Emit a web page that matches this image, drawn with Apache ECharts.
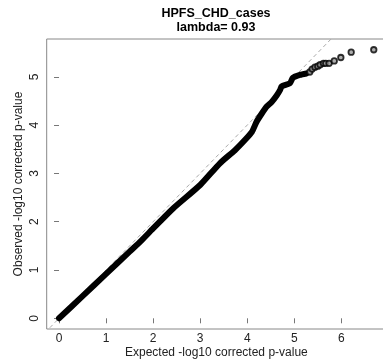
<!DOCTYPE html>
<html><head><meta charset="utf-8">
<script src="https://cdn.jsdelivr.net/npm/echarts@6/dist/echarts.min.js"></script>
<style>html,body{margin:0;padding:0;background:#fff}#c{width:383px;height:362px}</style>
</head><body><div id="c"></div>
<script>
const titleLines = ['HPFS_CHD_cases', 'lambda= 0.93'];
const xAxisName = 'Expected -log10 corrected p-value';
const yAxisName = 'Observed -log10 corrected p-value';
const xTicks = [0, 1, 2, 3, 4, 5, 6];
const yTicks = [0, 1, 2, 3, 4, 5];
const expectedDense = [0, 0.5, 1.0, 1.5, 1.76, 2.0, 2.43, 3.0, 3.42, 3.74, 3.95, 4.10, 4.20, 4.31, 4.41, 4.52, 4.63, 4.70, 4.73, 4.91, 4.97, 5.12, 5.26];
const observedDense = [0, 0.46, 0.92, 1.38, 1.62, 1.86, 2.28, 2.76, 3.21, 3.48, 3.69, 3.86, 4.07, 4.24, 4.38, 4.48, 4.62, 4.73, 4.80, 4.87, 4.98, 5.04, 5.07];
const expectedTail = [5.33, 5.38, 5.44, 5.50, 5.55, 5.62, 5.67, 5.74, 5.85, 5.99, 6.21, 6.69];
const observedTail = [5.10, 5.16, 5.20, 5.22, 5.25, 5.28, 5.28, 5.28, 5.33, 5.40, 5.51, 5.56];
const refLine = [-0.3, 6.3];

const font = '"Liberation Sans", Arial, Helvetica, sans-serif';
const chart = echarts.init(document.getElementById('c'), null, {renderer: 'canvas'});
const zip = (a, b) => a.map((v, i) => [v, b[i]]);
chart.setOption({
  animation: false,
  backgroundColor: '#fff',
  graphic: [
    {type: 'text', x: 216, y: 14, style: {text: titleLines[0], align: 'center', verticalAlign: 'middle', fontSize: 12.5, fontWeight: 'bold', fontFamily: font, fill: '#000'}},
    {type: 'text', x: 216, y: 28, style: {text: titleLines[1], align: 'center', verticalAlign: 'middle', fontSize: 12.5, fontWeight: 'bold', fontFamily: font, fill: '#000'}}
  ],
  grid: {left: 46.7, top: 39, width: 339.3, height: 290, outerBoundsMode: 'none', containLabel: false,
         show: true, borderColor: '#888', borderWidth: 1, backgroundColor: 'transparent'},
  xAxis: {
    type: 'value', min: -0.262, max: 6.95,
    name: xAxisName, nameLocation: 'middle', nameGap: 18, nameMoveOverlap: false,
    nameTextStyle: {fontSize: 12, fontFamily: font, color: '#222'},
    axisLine: {show: false}, splitLine: {show: false},
    axisTick: {show: true, length: 5, customValues: xTicks, lineStyle: {color: '#777'}},
    axisLabel: {customValues: xTicks, margin: 4, fontSize: 12, fontFamily: font, color: '#222'}
  },
  yAxis: {
    type: 'value', min: -0.2215, max: 5.783,
    name: yAxisName, nameLocation: 'middle', nameGap: 22, nameRotate: 90, nameMoveOverlap: false,
    nameTextStyle: {fontSize: 12, fontFamily: font, color: '#222'},
    axisLine: {show: false}, splitLine: {show: false},
    axisTick: {show: true, length: 5, customValues: yTicks, lineStyle: {color: '#777'}},
    axisLabel: {customValues: yTicks, margin: 6, rotate: 90, fontSize: 12, fontFamily: font, color: '#222'}
  },
  series: [
    {type: 'line', data: zip(refLine, refLine), symbol: 'none', clip: true,
     lineStyle: {color: '#aaa', width: 1, type: [4, 3]}, z: 1},
    {type: 'line', data: zip(expectedDense, observedDense), symbol: 'none', clip: true, smooth: 0.2,
     lineStyle: {color: '#000', width: 6, cap: 'round', join: 'round'}, z: 2},
    {type: 'scatter', data: zip(expectedTail, observedTail), symbol: 'circle', symbolSize: 5.5,
     itemStyle: {color: '#999', borderColor: '#000', borderWidth: 1.8}, z: 3}
  ]
});
</script></body></html>
